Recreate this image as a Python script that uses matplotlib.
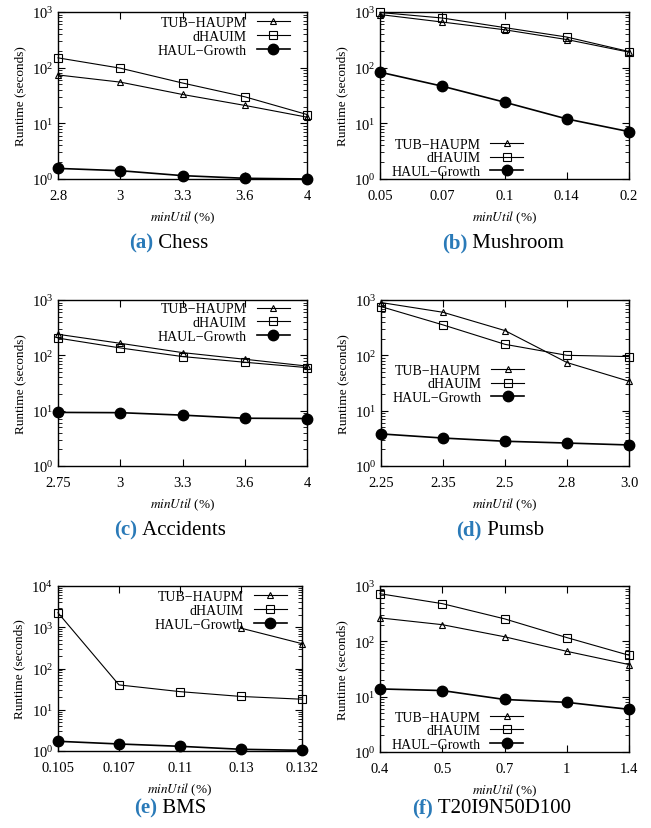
import numpy as np
import matplotlib.pyplot as plt
from matplotlib.offsetbox import TextArea, HPacker, AnchoredOffsetbox
from matplotlib.ticker import LogLocator, NullFormatter, FixedLocator

nan = np.nan

# series names
names = ['TUB\u2212HAUPM', 'dHAUIM', 'HAUL\u2212Growth']

# (a) Chess
chess_x = ['2.8', '3', '3.3', '3.6', '4']
chess_tub = [74, 55, 33, 21, 12.9]
chess_dhauim = [150, 98, 53, 30, 14.4]
chess_haul = [1.55, 1.41, 1.15, 1.03, 1.0]

# (b) Mushroom
mush_x = ['0.05', '0.07', '0.1', '0.14', '0.2']
mush_tub = [900, 660, 480, 320, 190]
mush_dhauim = [980, 780, 525, 355, 195]
mush_haul = [83, 46.5, 24, 12, 7.1]

# (c) Accidents
acc_x = ['2.75', '3', '3.3', '3.6', '4']
acc_tub = [240, 165, 112, 85, 64]
acc_dhauim = [205, 136, 95, 75, 60]
acc_haul = [9.3, 9.2, 8.3, 7.3, 7.2]

# (d) Pumsb
pumsb_x = ['2.25', '2.35', '2.5', '2.8', '3.0']
pumsb_tub = [900, 600, 280, 74, 34]
pumsb_dhauim = [760, 355, 158, 100, 95]
pumsb_haul = [3.8, 3.2, 2.8, 2.6, 2.4]

# (e) BMS
bms_x = ['0.105', '0.107', '0.11', '0.13', '0.132']
bms_tub = [nan, nan, nan, 950, 400]
bms_dhauim = [2240, 40, 27.5, 21, 18]
bms_haul = [1.72, 1.48, 1.3, 1.1, 1.04]

# (f) T20I9N50D100
t20_x = ['0.4', '0.5', '0.7', '1', '1.4']
t20_tub = [265, 200, 121, 66, 38]
t20_dhauim = [725, 480, 255, 117, 56]
t20_haul = [13.8, 12.9, 8.9, 7.9, 5.9]

plt.rcParams.update({
    'font.family': ['Liberation Serif', 'DejaVu Serif'],
    'mathtext.fontset': 'stix',
    'font.size': 10,
    'xtick.direction': 'in',
    'ytick.direction': 'in',
    'xtick.top': True,
    'ytick.right': True,
    'xtick.major.size': 5,
    'ytick.major.size': 5,
    'ytick.minor.size': 3,
    'xtick.major.pad': 7,
    'axes.linewidth': 1.0,
})

W, H = 651, 829
fig = plt.figure(figsize=(W / 100, H / 100), dpi=100)

# panel: (left, top, right, bottom) in px, ymax, legend loc, anchor, caption centre
panels = [
    ('(a)', 'Chess', chess_x, chess_tub, chess_dhauim, chess_haul,
     (58, 13, 307, 180), 1e3, 'upper right', (0.932, 0.975), (169, 243)),
    ('(b)', 'Mushroom', mush_x, mush_tub, mush_dhauim, mush_haul,
     (380, 13, 629, 180), 1e3, 'lower left', (0.045, 0.005), (503, 243)),
    ('(c)', 'Accidents', acc_x, acc_tub, acc_dhauim, acc_haul,
     (58, 301, 307, 467), 1e3, 'upper right', (0.932, 0.985), (170, 530)),
    ('(d)', 'Pumsb', pumsb_x, pumsb_tub, pumsb_dhauim, pumsb_haul,
     (381, 301, 629, 467), 1e3, 'lower left', (0.045, 0.373), (500, 530)),
    ('(e)', 'BMS', bms_x, bms_tub, bms_dhauim, bms_haul,
     (58, 587, 302, 752), 1e4, 'upper right', (0.939, 0.975), (170, 808)),
    ('(f)', 'T20I9N50D100', t20_x, t20_tub, t20_dhauim, t20_haul,
     (380, 587, 629, 753), 1e3, 'lower left', (0.045, 0.006), (492, 808)),
]

for tag, title, xl, tub, dh, haul, (l, t, r, b), ymax, loc, anchor, (cx, cy) in panels:
    ax = fig.add_axes([l / W, 1 - b / H, (r - l) / W, (b - t) / H])
    x = np.arange(len(xl))
    ax.plot(x, tub, color='black', lw=0.8, marker='^', ms=5, mfc='none',
            mew=0.8, label=names[0], clip_on=False)
    ax.plot(x, dh, color='black', lw=0.8, marker='s', ms=5.5, mfc='none',
            mew=0.8, label=names[1], clip_on=False)
    ax.plot(x, haul, color='black', lw=1.2, marker='o', ms=7.5, label=names[2],
            clip_on=False)
    ax.set_yscale('log')
    ax.set_ylim(1, ymax)
    ax.set_xlim(0, len(xl) - 1)
    ax.xaxis.set_major_locator(FixedLocator(x))
    ax.set_xticklabels(xl)
    ax.yaxis.set_major_locator(LogLocator(base=10, numticks=10))
    ax.yaxis.set_minor_locator(LogLocator(base=10, subs=np.arange(2, 10), numticks=20))
    ax.yaxis.set_minor_formatter(NullFormatter())
    ax.tick_params(axis='both', labelsize=10.5)
    ax.set_ylabel('Runtime (seconds)', fontsize=9.5, labelpad=4)
    ax.set_xlabel(r'$\it{minUtil}$ (%)', fontsize=9.5, labelpad=5)
    ax.legend(loc=loc, bbox_to_anchor=anchor, frameon=False, markerfirst=False,
              fontsize=10, handlelength=2.4, handletextpad=0.7,
              labelspacing=0.05, borderpad=0, borderaxespad=0)

    cap = HPacker(children=[
        TextArea(tag, textprops=dict(color='#2a7ab8', fontweight='bold', fontsize=15)),
        TextArea(' ' + title, textprops=dict(color='black', fontsize=15)),
    ], align='baseline', pad=0, sep=0)
    box = AnchoredOffsetbox(loc='center', child=cap, pad=0, borderpad=0, frameon=False,
                            bbox_to_anchor=(cx / W, 1 - cy / H),
                            bbox_transform=fig.transFigure)
    fig.add_artist(box)

plt.savefig('out.png', dpi=100)
